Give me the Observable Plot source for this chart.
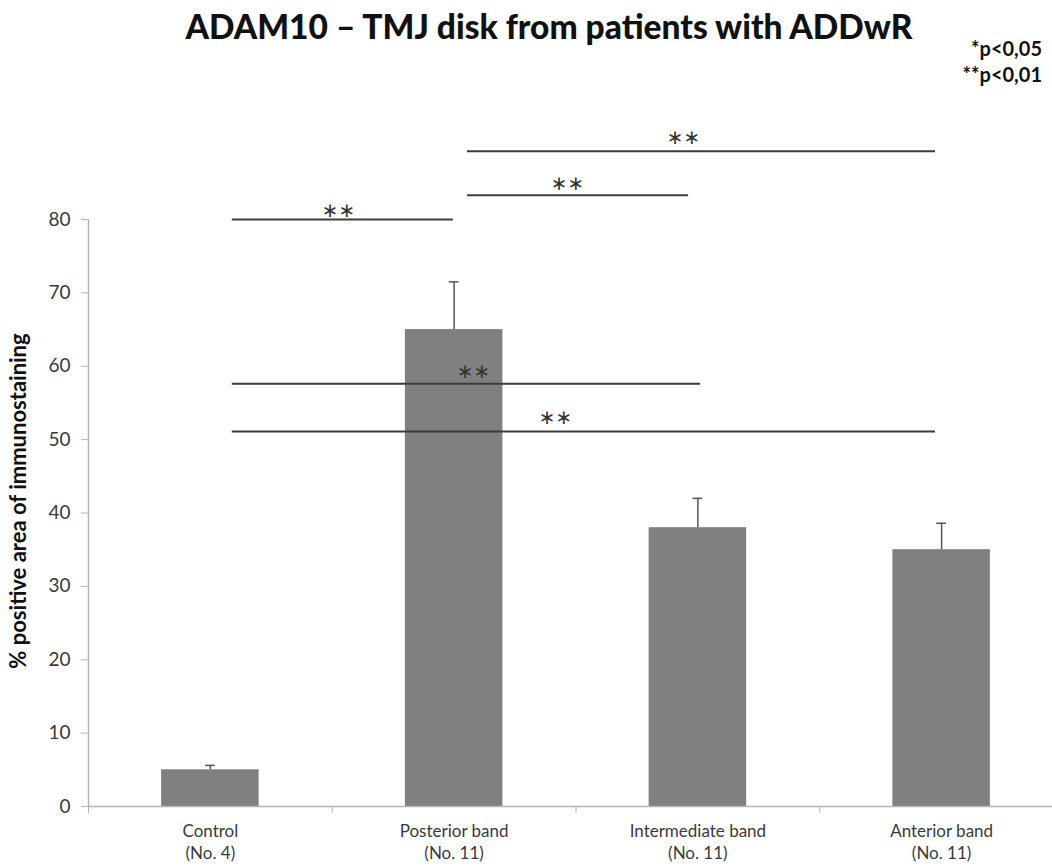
<!DOCTYPE html>
<html>
<head>
<meta charset="utf-8">
<script src="https://cdn.jsdelivr.net/npm/d3@7"></script>
<script src="https://cdn.jsdelivr.net/npm/@observablehq/plot@0.6"></script>
<style>
  body { margin: 0; background: #fff; font-family: Lato, "Open Sans", sans-serif; }
  #wrap { position: relative; width: 1052px; height: 867px; overflow: hidden; }
  #title { position: absolute; left: 0; width: 1098px; top: 6px; text-align: center;
           font-weight: 900; font-size: 33.5px; color: #111; white-space: nowrap; }
  #legend { position: absolute; right: 10px; top: 35px; text-align: right;
            font-weight: bold; font-size: 20px; line-height: 26px; color: #111; }
  #chart { position: absolute; left: 0; top: 0; }
</style>
</head>
<body>
<div id="wrap">
  <div id="chart"></div>
  <div id="title">ADAM10 – TMJ disk from patients with ADDwR</div>
  <div id="legend">*p&lt;0,05<br>**p&lt;0,01</div>
</div>
<script>
// ---- data ----
const categories = ["Control", "Posterior band", "Intermediate band", "Anterior band"];
const counts = ["(No. 4)", "(No. 11)", "(No. 11)", "(No. 11)"];
const means = [5.0, 65.0, 38.0, 35.0];
const errors = [0.6, 6.5, 4.0, 3.6];
const yTicks = [0, 10, 20, 30, 40, 50, 60, 70, 80];
const xBoundaries = [0, 1, 2, 3, 4];

// significance brackets (x in category units, y in % units)
const bracketFrom = [0.59, 1.555, 1.555, 0.59, 0.59];
const bracketTo = [1.497, 2.462, 3.475, 2.511, 3.475];
const bracketY = [80.0, 83.3, 89.3, 57.6, 51.1];
const starX = [1.026, 1.965, 2.441, 1.579, 1.916];
const starY = [81.4, 85.0, 91.3, 59.4, 53.1];
const starText = ["\u2217\u2217", "\u2217\u2217", "\u2217\u2217", "\u2217\u2217", "\u2217\u2217"];

const yLabel = "% positive area of immunostaining";

// ---- tables ----
const bars = categories.map((c, i) => ({ i, c, n: counts[i], m: means[i], e: errors[i] }));
const brackets = bracketY.map((y, k) => ({ y, x1: bracketFrom[k], x2: bracketTo[k], sx: starX[k], sy: starY[k], t: starText[k] }));

const axisColor = "#b4b4b4";
const textColor = "#3a3a3a";

const chart = Plot.plot({
  width: 1052,
  height: 867,
  marginLeft: 88,
  marginRight: 0,
  marginTop: 219,
  marginBottom: 61,
  style: { fontFamily: "Lato, 'Open Sans', sans-serif", background: "transparent", overflow: "visible" },
  x: { domain: [0, 4], range: [88, 1063] },
  y: { domain: [0, 80], range: [806, 219] },
  marks: [
    // bars
    Plot.rectY(bars, { x1: d => d.i + 0.3, x2: d => d.i + 0.7, y1: 0, y2: "m", fill: "#808080" }),
    // error bars
    Plot.ruleX(bars, { x: d => d.i + 0.5, y1: "m", y2: d => d.m + d.e, stroke: "#555", strokeWidth: 1.5 }),
    Plot.ruleY(bars, { y: d => d.m + d.e, x1: d => d.i + 0.48, x2: d => d.i + 0.52, stroke: "#555", strokeWidth: 1.5 }),
    // axes
    Plot.ruleX([0], { y1: 0, y2: 80, stroke: axisColor, strokeWidth: 1.5 }),
    Plot.ruleY([0], { x1: 0, x2: 4, stroke: axisColor, strokeWidth: 1.5 }),
    Plot.axisY({ ticks: yTicks, tickSize: 7, tickPadding: 11, stroke: axisColor, fill: textColor,
                 fontSize: 19, label: null, tickFormat: d => String(d) }),
    Plot.axisX({ ticks: xBoundaries, tickSize: 7, stroke: axisColor, tickFormat: () => "", label: null }),
    // category labels
    Plot.text(bars, { x: d => d.i + 0.5, y: 0, text: d => d.c + "\n" + d.n, lineAnchor: "middle",
                      lineHeight: 1.3, dy: 34, fontSize: 17, fill: textColor }),
    // y label
    Plot.text([yLabel], { frameAnchor: "left", text: d => d, rotate: -90, textAnchor: "middle",
                          dx: -70, dy: -12, fontSize: 22, fontWeight: "bold", fill: "#111" }),
    // significance brackets
    Plot.ruleY(brackets, { y: "y", x1: "x1", x2: "x2", stroke: "#3c3c3c", strokeWidth: 2 }),
    Plot.text(brackets, { x: "sx", y: "sy", text: "t", fontSize: 20, fill: "#333",
                          fontFamily: "DejaVu Sans", dy: 1 })
  ]
});
document.getElementById("chart").appendChild(chart);
</script>
</body>
</html>
